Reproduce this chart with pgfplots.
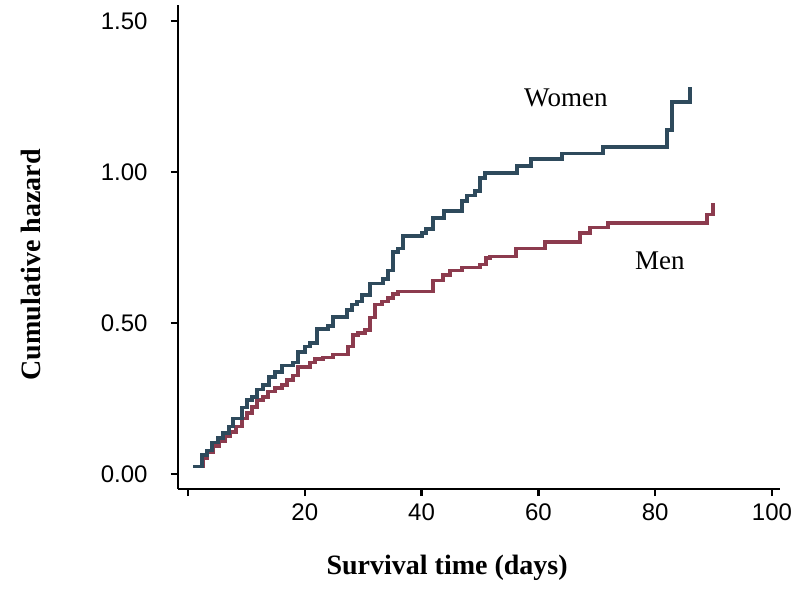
\documentclass[border=0pt]{standalone}
\usepackage{fontspec}
\setmainfont{Liberation Serif}
\newfontfamily\ticksf{Liberation Sans}
\usepackage{pgfplots}
\pgfplotsset{compat=1.18}
\definecolor{women}{HTML}{2E4A5C}
\definecolor{men}{HTML}{8C3B4E}
\begin{document}
\begin{tikzpicture}
\begin{axis}[
  scale only axis, width=602pt, height=484pt,
  xmin=-1.71, xmax=101.37, ymin=-0.0497, ymax=1.553,
  axis x line=bottom, axis y line=left,
  axis line style={-, line width=2.6pt, black},
  xtick={0,20,40,60,80,100}, xticklabels={,20,40,60,80,100},
  ytick={0,0.5,1,1.5}, yticklabels={0.00,0.50,1.00,1.50},
  tick align=outside,
  major tick length=7pt,
  tick style={line width=2.4pt, black},
  ticklabel style={font=\ticksf\fontsize{24}{28}\selectfont},
  yticklabel style={xshift=-20pt},
  xticklabel style={yshift=-4pt},
  clip=false,
]
\addplot[const plot, color=men, line width=3.2pt, line join=miter] coordinates {
(0.86,0.026) (2.57,0.053) (3.25,0.070) (4.28,0.093) (5.31,0.109) (6.34,0.123)
(7.19,0.139) (8.22,0.156) (9.25,0.185) (10.10,0.202) (10.96,0.222) (11.82,0.245)
(12.84,0.255) (13.70,0.272) (14.90,0.285) (16.10,0.295) (16.95,0.311) (17.98,0.325)
(18.84,0.354) (20.89,0.368) (21.75,0.381) (23.12,0.387) (24.83,0.397) (27.40,0.421)
(28.25,0.460) (29.11,0.467) (30.31,0.477) (31.16,0.517) (32.02,0.560) (33.22,0.570)
(34.25,0.583) (35.10,0.596) (35.96,0.603) (41.95,0.642) (43.66,0.659) (44.86,0.675)
(46.92,0.685) (50.00,0.695) (51.03,0.715) (51.71,0.719) (56.16,0.748) (61.13,0.768)
(67.12,0.798) (68.84,0.815) (71.92,0.831) (88.87,0.858) (89.90,0.897)
};
\addplot[const plot, color=women, line width=3.2pt, line join=miter] coordinates {
(0.86,0.026) (2.40,0.063) (3.25,0.079) (4.11,0.103) (5.14,0.119) (5.99,0.136)
(7.02,0.156) (7.71,0.185) (9.25,0.219) (10.10,0.245) (10.96,0.255) (11.82,0.281)
(12.84,0.295) (13.87,0.321) (14.90,0.338) (16.10,0.358) (17.98,0.368) (18.84,0.404)
(20.03,0.421) (20.89,0.434) (22.09,0.480) (23.97,0.490) (24.83,0.520) (27.23,0.543)
(28.08,0.560) (28.94,0.570) (29.79,0.593) (31.16,0.632) (33.39,0.646) (34.25,0.675)
(35.10,0.735) (35.96,0.748) (36.82,0.788) (40.07,0.798) (40.75,0.811) (41.95,0.848)
(43.84,0.871) (46.92,0.904) (47.77,0.921) (49.14,0.937) (50.00,0.980) (50.86,0.997)
(56.34,1.020) (58.73,1.043) (64.04,1.060) (71.06,1.083) (82.02,1.139) (82.88,1.232)
(85.96,1.281)
};
\node[font=\fontsize{27}{30}\selectfont] at (axis cs:64.7,1.245) {Women};
\node[font=\fontsize{27}{30}\selectfont] at (axis cs:80.8,0.705) {Men};
\node[rotate=90, font=\bfseries\fontsize{28}{30}\selectfont] at (rel axis cs:-0.244,0.463) {Cumulative hazard};
\node[font=\bfseries\fontsize{28}{30}\selectfont] at (rel axis cs:0.447,-0.163) {Survival time (days)};
\coordinate (sw) at (rel axis cs:0,0);
\end{axis}
\pgfresetboundingbox
\path[use as bounding box] (sw) ++(-178pt,-103pt) rectangle ++(799pt,592pt);
\end{tikzpicture}
\end{document}
